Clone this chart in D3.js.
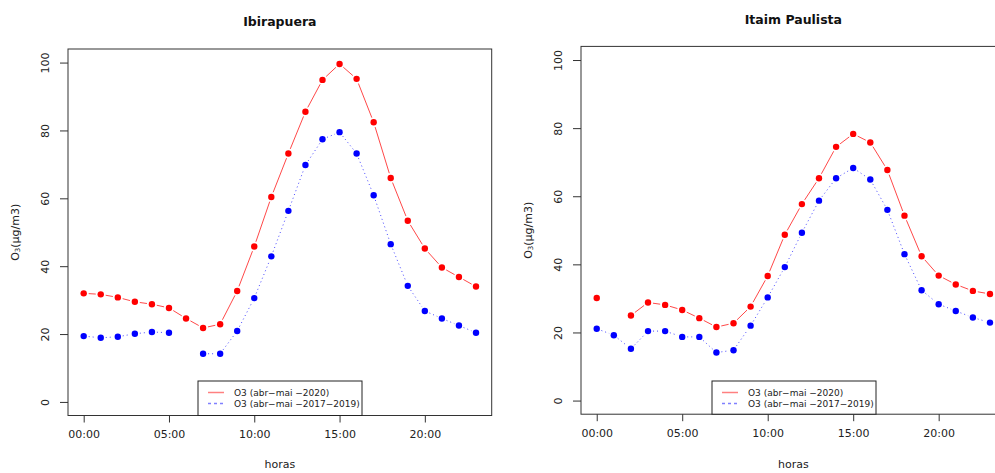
<!DOCTYPE html>
<html>
<head>
<meta charset="utf-8">
<script src="https://cdn.jsdelivr.net/npm/d3@7"></script>
<style>
    body { margin: 0; background: #fff; }
    svg { font-family: "DejaVu Sans", sans-serif; }
</style>
</head>
<body>
<div id="vis"></div>
<script>
// hourly ozone means (µg/m3), null = no data
var hours = d3.range(0, 24);
var xTicks = [0, 5, 10, 15, 20];
var xTickLabels = ['00:00', '05:00', '10:00', '15:00', '20:00'];
var yTicks = [0, 20, 40, 60, 80, 100];

var ibiraRed = [32.0, 31.7, 30.8, 29.5, 28.8, 27.7, 24.6, 21.8, 22.9, 32.7, 45.8, 60.4,
    73.2, 85.5, 94.9, 99.6, 95.2, 82.4, 66.0, 53.4, 45.2, 39.6, 36.8, 34.0];
var ibiraBlue = [19.4, 18.9, 19.2, 20.1, 20.6, 20.4, null, 14.2, 14.2, 20.9, 30.6, 42.9,
    56.3, 69.8, 77.4, 79.5, 73.2, 60.9, 46.5, 34.2, 26.8, 24.6, 22.5, 20.4];
var itaimRed = [30.1, null, 25.0, 28.8, 28.1, 26.6, 24.2, 21.6, 22.7, 27.6, 36.6, 48.7,
    57.7, 65.3, 74.5, 78.3, 75.8, 67.7, 54.3, 42.4, 36.7, 34.1, 32.2, 31.3];
var itaimBlue = [21.1, 19.2, 15.2, 20.4, 20.4, 18.7, 18.7, 14.1, 14.8, 22.0, 30.3, 39.2,
    49.3, 58.7, 65.3, 68.3, 64.9, 56.0, 43.0, 32.4, 28.3, 26.3, 24.4, 22.9];

var legendLabels = ['O3 (abr\u2212mai \u22122020)', 'O3 (abr\u2212mai \u22122017\u22122019)'];

var width = 995;
var height = 473;

var svg = d3.select('#vis')
    .append('svg')
    .attr('width', width)
    .attr('height', height);

// plot regions (box edges) for the two panels
var panels = [
    { title: 'Ibirapuera', red: ibiraRed, blue: ibiraBlue, left: 68, right: 491.7, top: 49, bottom: 415.5, titleY: 26, legendX: 198 },
    { title: 'Itaim Paulista', red: itaimRed, blue: itaimBlue, left: 581, right: 1005.7, top: 46.4, bottom: 414.2, titleY: 24, legendX: 712 }
];

var drawPanel = function(p) {
    // R style: 4% extension of data range
    var xScale = d3.scaleLinear().domain([-0.92, 23.92]).range([p.left, p.right]);
    var yScale = d3.scaleLinear().domain([-4, 104]).range([p.bottom, p.top]);
    var midX = (p.left + p.right) / 2;
    var midY = (p.top + p.bottom) / 2;

    var g = svg.append('g');

    // box
    g.append('rect')
        .attr('x', p.left)
        .attr('y', p.top)
        .attr('width', p.right - p.left)
        .attr('height', p.bottom - p.top)
        .attr('fill', 'none')
        .attr('stroke', '#333')
        .attr('stroke-width', 1);

    // x axis
    var xAxis = d3.axisBottom(xScale)
        .tickValues(xTicks)
        .tickSize(7)
        .tickPadding(8)
        .tickFormat(function(d, i) { return xTickLabels[i]; });
    var xg = g.append('g')
        .attr('transform', 'translate(0,' + p.bottom + ')')
        .call(xAxis);
    xg.select('.domain').remove();
    xg.selectAll('text').attr('font-size', 11).attr('fill', '#222').attr('font-family', 'DejaVu Sans');
    xg.selectAll('line').attr('stroke', '#333');

    // y axis
    var yAxis = d3.axisLeft(yScale)
        .tickValues(yTicks)
        .tickSize(8)
        .tickFormat(d3.format('d'));
    var yg = g.append('g')
        .attr('transform', 'translate(' + p.left + ',0)')
        .call(yAxis);
    yg.select('.domain').remove();
    yg.selectAll('line').attr('stroke', '#333');
    yg.selectAll('text')
        .attr('x', null)
        .attr('dy', null)
        .attr('font-size', 11)
        .attr('fill', '#222')
        .attr('font-family', 'DejaVu Sans')
        .attr('text-anchor', 'middle')
        .attr('dominant-baseline', 'central')
        .attr('transform', 'translate(-23,0) rotate(-90)');

    // title
    g.append('text')
        .attr('x', midX)
        .attr('y', p.titleY)
        .attr('text-anchor', 'middle')
        .attr('font-size', 12.5)
        .attr('font-weight', 'bold')
        .attr('fill', '#111')
        .text(p.title);

    // axis titles
    g.append('text')
        .attr('x', midX)
        .attr('y', 468)
        .attr('text-anchor', 'middle')
        .attr('font-size', 11)
        .attr('fill', '#222')
        .text('horas');

    var yl = g.append('text')
        .attr('transform', 'translate(' + (p.left - 53) + ',' + midY + ') rotate(-90)')
        .attr('text-anchor', 'middle')
        .attr('dominant-baseline', 'central')
        .attr('font-size', 11)
        .attr('fill', '#222');
    yl.append('tspan').text('O');
    yl.append('tspan').attr('font-size', 7).attr('dy', 3).text('3');
    yl.append('tspan').attr('dy', -3).text('(\u00b5g/m3)');

    // type="b" style lines: segments between points with a gap around each point
    var gap = 5;
    var drawSeries = function(values, color, lineColor, dash) {
        var segs = [];
        for (var i = 0; i < values.length - 1; i++) {
            if (values[i] == null || values[i + 1] == null) continue;
            var x1 = xScale(hours[i]), y1 = yScale(values[i]);
            var x2 = xScale(hours[i + 1]), y2 = yScale(values[i + 1]);
            var len = Math.sqrt((x2 - x1) * (x2 - x1) + (y2 - y1) * (y2 - y1));
            if (len <= 2 * gap) continue;
            var ux = (x2 - x1) / len, uy = (y2 - y1) / len;
            segs.push([x1 + ux * gap, y1 + uy * gap, x2 - ux * gap, y2 - uy * gap]);
        }
        g.selectAll(null).data(segs).enter().append('line')
            .attr('x1', function(d) { return d[0]; })
            .attr('y1', function(d) { return d[1]; })
            .attr('x2', function(d) { return d[2]; })
            .attr('y2', function(d) { return d[3]; })
            .attr('stroke', lineColor)
            .attr('stroke-width', 0.9)
            .attr('stroke-dasharray', dash);

        var pts = hours.filter(function(h) { return values[h] != null; });
        g.selectAll(null).data(pts).enter().append('circle')
            .attr('cx', function(h) { return xScale(h); })
            .attr('cy', function(h) { return yScale(values[h]); })
            .attr('r', 3.2)
            .attr('fill', color);
    };
    drawSeries(p.red, '#ff0000', '#ff3333', null);
    drawSeries(p.blue, '#0000ff', '#3333ff', '1,3');

    // legend
    var lx = p.legendX;
    var ly = 381;
    g.append('rect')
        .attr('x', lx)
        .attr('y', ly)
        .attr('width', 164)
        .attr('height', p.bottom - ly)
        .attr('fill', '#fff')
        .attr('stroke', '#222')
        .attr('stroke-width', 1);
    var rows = [{ c: '#ff8080', dash: null }, { c: '#8080ff', dash: '3,3' }];
    rows.forEach(function(r, i) {
        var yy = ly + 11.5 + i * 11;
        g.append('line')
            .attr('x1', lx + 10)
            .attr('x2', lx + 26)
            .attr('y1', yy)
            .attr('y2', yy)
            .attr('stroke', r.c)
            .attr('stroke-width', 1.5)
            .attr('stroke-dasharray', r.dash);
        g.append('text')
            .attr('x', lx + 36)
            .attr('y', yy)
            .attr('dominant-baseline', 'central')
            .attr('font-size', 9)
            .attr('fill', '#222')
            .text(legendLabels[i]);
    });
};

panels.forEach(drawPanel);
</script>
</body>
</html>
